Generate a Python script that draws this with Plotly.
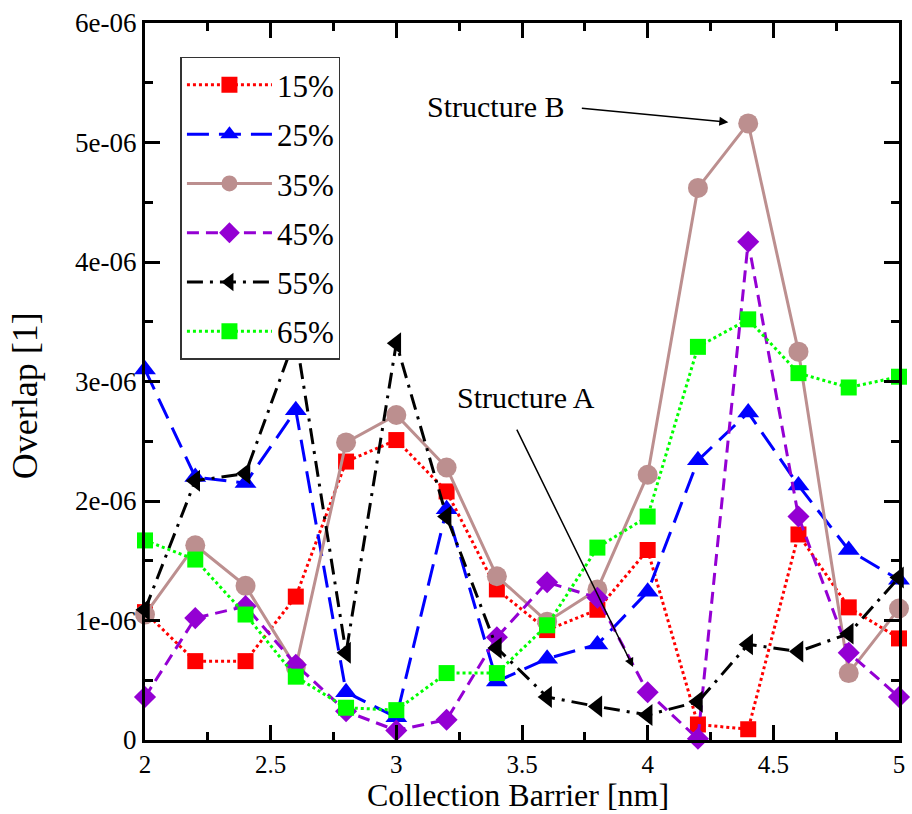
import plotly.graph_objects as go

# Collection barrier width [nm]
barrier = [2.0, 2.2, 2.4, 2.6, 2.8, 3.0, 3.2, 3.4, 3.6, 3.8, 4.0, 4.2, 4.4, 4.6, 4.8, 5.0]

# Overlap values (units of 1e-6) for each composition
ov_15 = [1.07, 0.66, 0.66, 1.20, 2.33, 2.51, 2.08, 1.26, 0.92, 1.09, 1.59, 0.13, 0.09, 1.72, 1.11, 0.85]
ov_25 = [3.10, 2.20, 2.15, 2.76, 0.40, 0.19, 1.93, 0.49, 0.68, 0.80, 1.24, 2.34, 2.74, 2.13, 1.59, 1.34]
ov_35 = [1.05, 1.63, 1.29, 0.61, 2.49, 2.72, 2.28, 1.37, 0.99, 1.26, 2.22, 4.62, 5.16, 3.25, 0.56, 1.10]
ov_45 = [0.36, 1.02, 1.12, 0.63, 0.24, 0.08, 0.17, 0.86, 1.32, 1.19, 0.40, 0.01, 4.17, 1.87, 0.73, 0.36]
ov_55 = [1.09, 2.17, 2.23, 3.38, 0.73, 3.32, 1.87, 0.77, 0.36, 0.28, 0.21, 0.32, 0.80, 0.74, 0.89, 1.36]
ov_65 = [1.67, 1.51, 1.05, 0.53, 0.27, 0.25, 0.56, 0.56, 0.96, 1.61, 1.87, 3.29, 3.52, 3.07, 2.95, 3.04]

series_names = ["15%", "25%", "35%", "45%", "55%", "65%"]

y_tickvals = [0, 1e-6, 2e-6, 3e-6, 4e-6, 5e-6, 6e-6]
y_ticktext = ["0", "1e-06", "2e-06", "3e-06", "4e-06", "5e-06", "6e-06"]
x_tickvals = [2, 2.5, 3, 3.5, 4, 4.5, 5]
x_ticktext = ["2", "2.5", "3", "3.5", "4", "4.5", "5"]

FONT = "Times New Roman, Liberation Serif, serif"

styles = [
    dict(color="#FF0000", dash="dot", symbol="square", size=16),
    dict(color="#0000FF", dash="22px,10px", symbol="triangle-up", size=19),
    dict(color="#BC8F8F", dash="solid", symbol="circle", size=20),
    dict(color="#9400D3", dash="12px,7px", symbol="diamond", size=17),
    dict(color="#000000", dash="16px,7px,3px,7px", symbol="triangle-left", size=19),
    dict(color="#00FF00", dash="dot", symbol="square", size=16),
]

series = [ov_15, ov_25, ov_35, ov_45, ov_55, ov_65]

fig = go.Figure()
for name, vals, st in zip(series_names, series, styles):
    fig.add_trace(go.Scatter(
        x=barrier,
        y=[v * 1e-6 for v in vals],
        name=name,
        legendgroup=name,
        mode="lines+markers",
        line=dict(color=st["color"], width=3, dash=st["dash"]),
        marker=dict(color=st["color"], symbol=st["symbol"], size=st["size"]),
        cliponaxis=False,
    ))

axis_common = dict(
    showline=True, linewidth=3, linecolor="black", mirror="ticks",
    ticks="inside", ticklen=15, tickwidth=3, tickcolor="black",
    showgrid=False, zeroline=False,
)

fig.update_xaxes(
    range=[2, 5], tickvals=x_tickvals, ticktext=x_ticktext,
    tickfont=dict(family=FONT, size=25, color="black"),
    minor=dict(ticks="inside", dtick=0.25, tick0=2, ticklen=8, tickwidth=3, tickcolor="black"),
    **axis_common,
)
fig.update_yaxes(
    range=[0, 6e-6], tickvals=y_tickvals, ticktext=y_ticktext,
    tickfont=dict(family=FONT, size=27, color="black"),
    minor=dict(ticks="inside", dtick=0.5e-6, tick0=0, ticklen=8, tickwidth=3, tickcolor="black"),
    **axis_common,
)

# Axis titles
fig.add_annotation(xref="paper", yref="paper", x=0.495, y=-0.0774, yanchor="middle",
                   text="Collection Barrier [nm]", showarrow=False,
                   font=dict(family=FONT, size=32, color="black"))
fig.add_annotation(xref="paper", yref="paper", x=-0.16, y=0.48, xanchor="center",
                   yanchor="middle", textangle=-90,
                   text="Overlap [1]", showarrow=False,
                   font=dict(family=FONT, size=36, color="black"))

# Labelled arrows pointing at the highlighted structures
fig.add_annotation(x=3.394, y=5.30e-6, text="Structure B", showarrow=False,
                   font=dict(family=FONT, size=30, color="black"))
fig.add_annotation(x=4.321, y=5.17e-6, text="", showarrow=True, ax=-148, ay=-14,
                   arrowhead=2, arrowsize=1.2, arrowwidth=1.5, arrowcolor="black")
fig.add_annotation(x=3.516, y=2.87e-6, text="Structure A", showarrow=False,
                   font=dict(family=FONT, size=30, color="black"))
fig.add_annotation(x=3.942, y=0.61e-6, text="", showarrow=True, ax=-117, ay=-239,
                   arrowhead=2, arrowsize=1.2, arrowwidth=1.5, arrowcolor="black")

fig.update_layout(
    width=912, height=814,
    margin=dict(l=145, r=7, t=23, b=74),
    paper_bgcolor="white", plot_bgcolor="white",
    font=dict(family=FONT, color="black"),
    legend=dict(
        x=0.047, y=0.953, xanchor="left", yanchor="top",
        bgcolor="white", bordercolor="#333333", borderwidth=1.5,
        font=dict(family=FONT, size=31, color="black"),
        tracegroupgap=6, itemwidth=85,
    ),
)

fig.write_html("out.html")
